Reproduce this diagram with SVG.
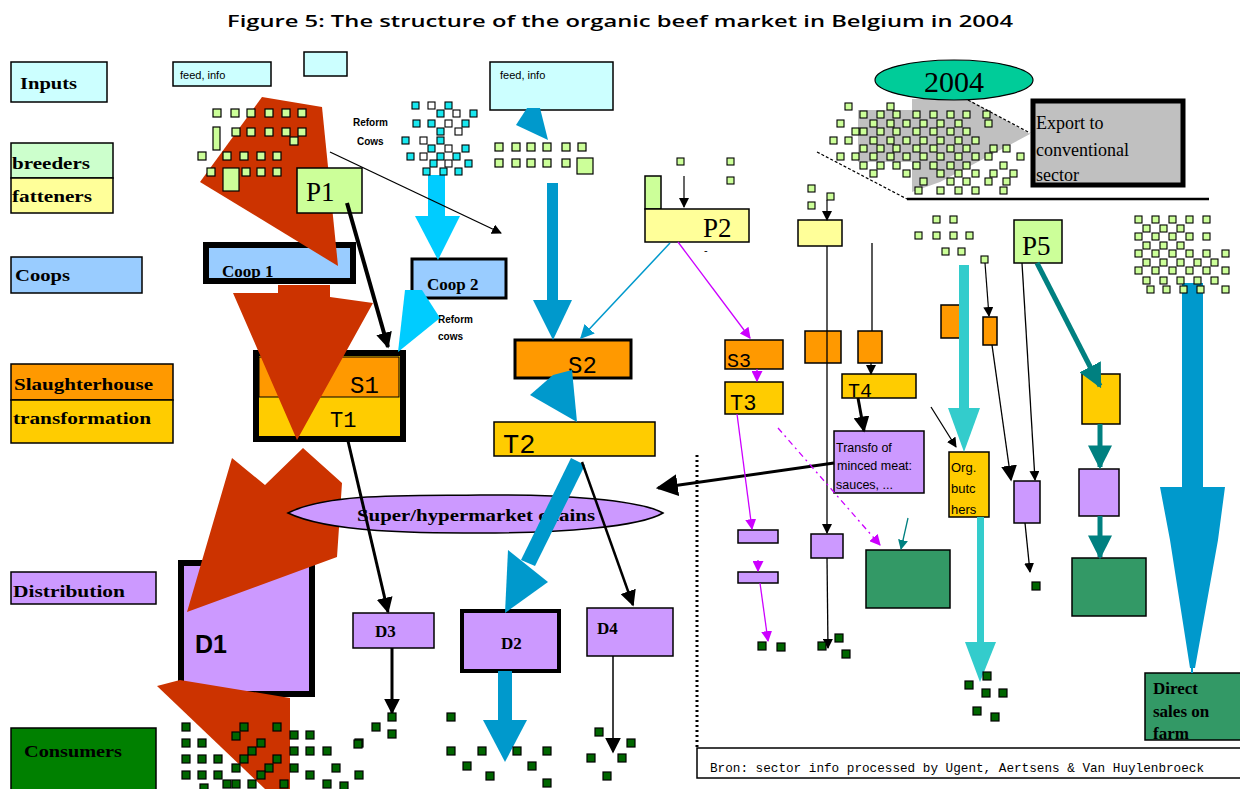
<svg xmlns="http://www.w3.org/2000/svg" width="1240" height="789" viewBox="0 0 1240 789">
<style>
.lbl{font-family:"Liberation Serif",serif;font-weight:bold;font-size:17px;fill:#000}
.ser{font-family:"Liberation Serif",serif;fill:#000}
.mono{font-family:"Liberation Mono",monospace;fill:#000}
.sans{font-family:"Liberation Sans",Arial,sans-serif;fill:#000}
.bx{stroke:#000;stroke-width:1.5}
.ln{stroke:#000;fill:none}
</style>
<defs>
<rect id="sg" width="8" height="8" fill="#ccff99" stroke="#000" stroke-width="1.2"/>
<rect id="sg7" width="7" height="7" fill="#ccff99" stroke="#000" stroke-width="1.1"/>
<rect id="sc" width="7" height="7" fill="#19e8f0" stroke="#000" stroke-width="1.1"/>
<rect id="sw" width="7" height="7" fill="#ffffff" stroke="#000" stroke-width="1.1"/>
<rect id="sk" width="8" height="8" fill="#006600" stroke="#000" stroke-width="1.2"/>
<marker id="ab" viewBox="0 0 10 10" refX="9" refY="5" markerWidth="16" markerHeight="16" orient="auto" markerUnits="userSpaceOnUse"><path d="M0,0 L10,5 L0,10 z" fill="#000"/></marker>
<marker id="abs" viewBox="0 0 10 10" refX="9" refY="5" markerWidth="10" markerHeight="10" orient="auto" markerUnits="userSpaceOnUse"><path d="M0,0 L10,5 L0,10 z" fill="#000"/></marker>
<marker id="abl" viewBox="0 0 10 10" refX="9" refY="5" markerWidth="22" markerHeight="22" orient="auto" markerUnits="userSpaceOnUse"><path d="M0,0 L10,5 L0,10 z" fill="#000"/></marker>
<marker id="am" viewBox="0 0 10 10" refX="9" refY="5" markerWidth="11" markerHeight="11" orient="auto" markerUnits="userSpaceOnUse"><path d="M0,0 L10,5 L0,10 z" fill="#cc00ff"/></marker>
<marker id="abb" viewBox="0 0 10 10" refX="9" refY="5" markerWidth="14" markerHeight="14" orient="auto" markerUnits="userSpaceOnUse"><path d="M0,0 L10,5 L0,10 z" fill="#0099cc"/></marker>
<marker id="at" viewBox="0 0 10 10" refX="9" refY="5" markerWidth="24" markerHeight="24" orient="auto" markerUnits="userSpaceOnUse"><path d="M0,0 L10,5 L0,10 z" fill="#008080"/></marker>
<marker id="ats" viewBox="0 0 10 10" refX="9" refY="5" markerWidth="10" markerHeight="10" orient="auto" markerUnits="userSpaceOnUse"><path d="M0,0 L10,5 L0,10 z" fill="#008080"/></marker>
</defs>
<rect width="1240" height="789" fill="#fff"/>
<text x="620" y="27" text-anchor="middle" font-family="Open Sans, sans-serif" font-weight="600" font-size="17" textLength="786" lengthAdjust="spacingAndGlyphs">Figure 5: The structure of the organic beef market in Belgium in 2004</text>

<g id="legend">
<rect class="bx" x="11" y="62" width="96" height="40" fill="#ccffff"/>
<text class="lbl" x="20" y="89" textLength="57" lengthAdjust="spacingAndGlyphs">Inputs</text>
<rect class="bx" x="11" y="143" width="102" height="35" fill="#ccffcc"/>
<text class="lbl" x="12" y="169" textLength="78" lengthAdjust="spacingAndGlyphs">breeders</text>
<rect class="bx" x="11" y="178" width="102" height="35" fill="#ffff99"/>
<text class="lbl" x="12" y="202" textLength="80" lengthAdjust="spacingAndGlyphs">fatteners</text>
<rect class="bx" x="11" y="257" width="131" height="36" fill="#99ccff"/>
<text class="lbl" x="15" y="281" textLength="55" lengthAdjust="spacingAndGlyphs">Coops</text>
<rect class="bx" x="11" y="364" width="162" height="36" fill="#ff9900"/>
<text class="lbl" x="14" y="390" textLength="139" lengthAdjust="spacingAndGlyphs">Slaughterhouse</text>
<rect class="bx" x="11" y="400" width="162" height="43" fill="#ffcc00"/>
<text class="lbl" x="13" y="424" textLength="138" lengthAdjust="spacingAndGlyphs">transformation</text>
<rect class="bx" x="11" y="572" width="145" height="32" fill="#cc99ff"/>
<text class="lbl" x="13" y="597" textLength="112" lengthAdjust="spacingAndGlyphs">Distribution</text>
<rect class="bx" x="11" y="728" width="145" height="64" fill="#008000"/>
<text class="lbl" x="24" y="757" textLength="98" lengthAdjust="spacingAndGlyphs">Consumers</text>
</g>

<g id="inputs">
<rect class="bx" x="173" y="62" width="98" height="24" fill="#ccffff"/>
<text class="sans" x="180" y="79" font-size="11">feed, info</text>
<rect class="bx" x="304" y="52" width="43" height="24" fill="#ccffff"/>
<rect class="bx" x="490" y="62" width="123" height="48" fill="#ccffff"/>
<text class="sans" x="500" y="79" font-size="11">feed, info</text>
</g>

<g id="reform-labels">
<text class="sans" x="353" y="126" font-size="10" font-weight="bold">Reform</text>
<text class="sans" x="357" y="145" font-size="10" font-weight="bold">Cows</text>
<text class="sans" x="438" y="323" font-size="10" font-weight="bold">Reform</text>
<text class="sans" x="438" y="340" font-size="10" font-weight="bold">cows</text>
</g>

<g id="coop1"><rect x="206" y="245" width="147" height="36" fill="#99ccff" stroke="#000" stroke-width="6"/><text class="lbl" x="222" y="277" font-size="18">Coop 1</text></g>
<g id="coop2"><rect x="412" y="259" width="94" height="39" fill="#99ccff" stroke="#000" stroke-width="3"/><text class="lbl" x="427" y="290">Coop 2</text></g>

<g id="s1t1">
<rect x="256" y="353" width="147" height="86" fill="#ffcc00" stroke="#000" stroke-width="6"/>
<rect x="259" y="357" width="140" height="40" fill="#ff9900" stroke="#000" stroke-width="1"/>
<text class="mono" x="350" y="393" font-size="24">S1</text>
<text class="mono" x="330" y="427" font-size="22">T1</text>
</g>

<g id="s2"><rect x="515" y="340" width="116" height="38" fill="#ff9900" stroke="#000" stroke-width="3"/><text class="mono" x="568" y="373" font-size="24">S2</text></g>
<g id="t2"><rect class="bx" x="494" y="422" width="161" height="34" fill="#ffcc00"/><text class="mono" x="503" y="453" font-size="27">T2</text></g>

<g id="p2">
<rect class="bx" x="645" y="176" width="16" height="33" fill="#ccff99"/>
<rect class="bx" x="645" y="209" width="104" height="33" fill="#ffff99"/>
<text class="ser" x="703" y="237" font-size="27">P2</text>
<text class="sans" x="704" y="254" font-size="11">-</text>
</g>

<g id="s3"><rect class="bx" x="725" y="340" width="58" height="29" fill="#ff9900"/><text class="mono" x="727" y="367" font-size="20">S3</text></g>
<g id="t3"><rect class="bx" x="725" y="382" width="58" height="32" fill="#ffcc00"/><text class="mono" x="730" y="410" font-size="22">T3</text></g>

<g id="col5">
<rect class="bx" x="798" y="220" width="44" height="26" fill="#ffff99"/>
<rect class="bx" x="805" y="331" width="36" height="32" fill="#ff9900"/>
<rect class="bx" x="811" y="534" width="32" height="24" fill="#cc99ff"/>
</g>
<g id="col6"><rect class="bx" x="858" y="331" width="24" height="32" fill="#ff9900"/></g>

<g id="d1"><rect x="181" y="563" width="131" height="131" fill="#cc99ff" stroke="#000" stroke-width="6"/><text x="195" y="653" font-family="Liberation Sans, Arial, sans-serif" font-weight="bold" font-size="25">D1</text></g>
<g id="d3"><rect class="bx" x="353" y="613" width="81" height="35" fill="#cc99ff"/><text class="lbl" x="375" y="637">D3</text></g>
<g id="d2"><rect x="462" y="611" width="97" height="60" fill="#cc99ff" stroke="#000" stroke-width="4"/><text class="lbl" x="501" y="649">D2</text></g>
<g id="d4"><rect class="bx" x="587" y="608" width="86" height="48" fill="#cc99ff"/><text class="lbl" x="597" y="634">D4</text></g>

<g id="mag-boxes">
<rect class="bx" x="738" y="530" width="40" height="13" fill="#cc99ff"/>
<rect class="bx" x="738" y="572" width="40" height="11" fill="#cc99ff"/>
</g>

<g id="export2004">
<polygon points="858,110 912,110 912,99 967,99 1030,134 940,182 912,192 912,162 858,162" fill="#c0c0c0"/>
<rect x="1033" y="101" width="150" height="84" fill="#c0c0c0" stroke="#000" stroke-width="5"/>
<text class="ser" x="1036" y="129" font-size="18">Export to</text>
<text class="ser" x="1036" y="156" font-size="18">conventional</text>
<text class="ser" x="1036" y="181" font-size="18">sector</text>
<ellipse cx="954" cy="80" rx="79" ry="20" fill="#00cc99" stroke="#000" stroke-width="1.2"/>
<text class="ser" x="954" y="92" font-size="30" text-anchor="middle">2004</text>
<line x1="907" y1="199" x2="1209" y2="199" stroke="#000" stroke-width="2.5"/>
<line x1="817" y1="152" x2="907" y2="199" stroke="#000" stroke-width="1.2" stroke-dasharray="3,2"/>
<line x1="968" y1="100" x2="1030" y2="133" stroke="#000" stroke-width="1.2" stroke-dasharray="3,2"/>
</g>

<g id="t4"><rect class="bx" x="842" y="374" width="74" height="24" fill="#ffcc00"/><text class="mono" x="848" y="397" font-size="20">T4</text></g>
<g id="transfo"><rect class="bx" x="834" y="431" width="90" height="62" fill="#cc99ff"/>
<text class="sans" x="836" y="452" font-size="12.5">Transfo of</text>
<text class="sans" x="837" y="470" font-size="12.5">minced meat:</text>
<text class="sans" x="836" y="489" font-size="12.5">sauces, ...</text></g>

<g id="col7"><rect class="bx" x="941" y="305" width="24" height="33" fill="#ff9900"/></g>
<g id="butchers"><rect class="bx" x="949" y="452" width="40" height="65" fill="#ffcc00"/>
<text class="sans" x="951" y="472" font-size="13">Org.</text>
<text class="sans" x="951" y="493" font-size="13">butc</text>
<text class="sans" x="951" y="514" font-size="13">hers</text></g>
<g id="col8"><rect class="bx" x="983" y="317" width="14" height="28" fill="#ff9900"/><rect class="bx" x="1014" y="481" width="26" height="42" fill="#cc99ff"/></g>
<g id="p5"><rect class="bx" x="1014" y="220" width="48" height="43" fill="#ccff99"/><text class="ser" x="1022" y="255" font-size="27">P5</text></g>
<g id="col9"><rect class="bx" x="1082" y="374" width="38" height="50" fill="#ffcc00"/><rect class="bx" x="1079" y="469" width="40" height="47" fill="#cc99ff"/><rect class="bx" x="1072" y="558" width="74" height="58" fill="#339966"/></g>
<g id="green-mid"><rect class="bx" x="866" y="550" width="84" height="58" fill="#339966"/></g>
<g id="direct"><rect class="bx" x="1145" y="673" width="97" height="67" fill="#339966"/>
<text class="lbl" x="1153" y="694">Direct</text>
<text class="lbl" x="1153" y="717">sales on</text>
<text class="lbl" x="1153" y="739">farm</text></g>

<g id="source">
<line x1="697" y1="455" x2="697" y2="748" stroke="#000" stroke-width="3" stroke-dasharray="2,3"/>
<rect x="697" y="748" width="545" height="30" fill="none" stroke="#000" stroke-width="1.5"/>
<text class="mono" x="710" y="772" font-size="13" textLength="494" lengthAdjust="spacingAndGlyphs">Bron: sector info processed by Ugent, Aertsens &amp; Van Huylenbroeck</text>
</g>

<g id="connectors-main-flow">
<polygon points="200,182 262,97 322,107 338,266" fill="#cc3300"/>
<polygon points="233,293 278,293 278,285 330,285 330,297 373,303 297,440" fill="#cc3300"/>
<polygon points="232,458 265,485 303,448 342,483 337,557 187,612" fill="#cc3300"/>
<polygon points="157,686 180,680 290,698 290,789 265,789" fill="#cc3300"/>
</g>

<g id="p1"><rect class="bx" x="297" y="168" width="65" height="45" fill="#ccff99"/><text class="ser" x="306" y="201" font-size="27">P1</text></g>
<g id="supermarket"><path d="M288,513 C330,492 420,496 480,495 C560,494 640,500 663,513 C640,527 560,533 480,533 C420,533 330,533 288,513 Z" fill="#cc99ff" stroke="#000" stroke-width="1.5"/><text class="lbl" x="476" y="521" text-anchor="middle" textLength="238" lengthAdjust="spacingAndGlyphs">Super/hypermarket chains</text></g>

<g id="connectors">
<rect x="428" y="175" width="17" height="42" fill="#00ccff"/>
<polygon points="415,216 460,216 438,260" fill="#00ccff"/>
<polygon points="405,290 422,290 440,318 398,352" fill="#00ccff"/>
<polygon points="516,125 527,108 540,108 548,140" fill="#0099cc"/>
<rect x="547" y="183" width="11" height="118" fill="#0099cc"/>
<polygon points="533,300 572,300 553,340" fill="#0099cc"/>
<polygon points="530,395 553,375 572,370 577,422" fill="#0099cc"/>
<polygon points="585,465 571,458 521,560 535,566" fill="#0099cc"/>
<polygon points="508,550 548,582 505,613" fill="#0099cc"/>
<rect x="498" y="671" width="14" height="51" fill="#0099cc"/>
<polygon points="483,720 527,720 505,762" fill="#0099cc"/>
<line x1="670" y1="243" x2="581" y2="338" stroke="#0099cc" stroke-width="1.5" marker-end="url(#abb)"/>
<rect x="1182" y="283" width="21" height="205" fill="#0099cc"/>
<polygon points="1160,487 1225,487 1218,540 1195,668 1190,668 1170,540" fill="#0099cc"/>
<line x1="1192" y1="665" x2="1192" y2="673" stroke="#0099cc" stroke-width="2"/>
<rect x="959" y="265" width="10" height="145" fill="#33cccc"/>
<polygon points="948,408 980,408 964,452" fill="#33cccc"/>
<rect x="977" y="517" width="7" height="127" fill="#33cccc"/>
<polygon points="965,642 996,642 980,682" fill="#33cccc"/>
<line x1="347" y1="203" x2="388" y2="347" stroke="#000" stroke-width="4" marker-end="url(#ab)"/>
<line x1="330" y1="152" x2="501" y2="233" stroke="#000" stroke-width="1.3" marker-end="url(#abs)"/>
<line x1="348" y1="441" x2="388" y2="612" stroke="#000" stroke-width="3" marker-end="url(#ab)"/>
<line x1="392" y1="648" x2="392" y2="713" stroke="#000" stroke-width="3" marker-end="url(#ab)"/>
<line x1="582" y1="462" x2="633" y2="605" stroke="#000" stroke-width="2.5" marker-end="url(#ab)"/>
<line x1="613" y1="656" x2="613" y2="752" stroke="#000" stroke-width="1.5" marker-end="url(#ab)"/>
<line x1="684" y1="176" x2="684" y2="207" stroke="#000" stroke-width="1.2" marker-end="url(#abs)"/>
<line x1="827" y1="200" x2="827" y2="220" stroke="#000" stroke-width="1.2" marker-end="url(#abs)"/>
<line x1="827" y1="246" x2="827" y2="533" stroke="#000" stroke-width="1.3" marker-end="url(#abs)"/>
<line x1="827" y1="558" x2="828" y2="648" stroke="#000" stroke-width="1.3" marker-end="url(#abs)"/>
<line x1="872" y1="243" x2="872" y2="331" stroke="#000" stroke-width="1.3"/>
<line x1="871" y1="363" x2="871" y2="374" stroke="#000" stroke-width="1.3" marker-end="url(#abs)"/>
<line x1="858" y1="398" x2="864" y2="431" stroke="#000" stroke-width="3" marker-end="url(#ab)"/>
<line x1="834" y1="463" x2="658" y2="488" stroke="#000" stroke-width="3" marker-end="url(#abl)"/>
<line x1="931" y1="407" x2="956" y2="447" stroke="#000" stroke-width="1.3" marker-end="url(#abs)"/>
<line x1="985" y1="263" x2="989" y2="316" stroke="#000" stroke-width="1.2" marker-end="url(#abs)"/>
<line x1="992" y1="345" x2="1011" y2="480" stroke="#000" stroke-width="1.3" marker-end="url(#ab)"/>
<line x1="1022" y1="263" x2="1035" y2="480" stroke="#000" stroke-width="1.3" marker-end="url(#abs)"/>
<line x1="1025" y1="523" x2="1030" y2="572" stroke="#000" stroke-width="1.3" marker-end="url(#abs)"/>
<line x1="1037" y1="263" x2="1100" y2="386" stroke="#008080" stroke-width="5" marker-end="url(#at)"/>
<line x1="1100" y1="424" x2="1100" y2="467" stroke="#008080" stroke-width="5" marker-end="url(#at)"/>
<line x1="1100" y1="516" x2="1100" y2="557" stroke="#008080" stroke-width="5" marker-end="url(#at)"/>
<line x1="908" y1="518" x2="901" y2="549" stroke="#008080" stroke-width="1.3" marker-end="url(#ats)"/>
<line x1="678" y1="242" x2="750" y2="338" stroke="#cc00ff" stroke-width="1.3" marker-end="url(#am)"/>
<line x1="757" y1="369" x2="757" y2="381" stroke="#cc00ff" stroke-width="1.3" marker-end="url(#am)"/>
<line x1="737" y1="414" x2="752" y2="529" stroke="#cc00ff" stroke-width="1.3" marker-end="url(#am)"/>
<line x1="758" y1="560" x2="758" y2="571" stroke="#cc00ff" stroke-width="1.3" marker-end="url(#am)"/>
<line x1="760" y1="583" x2="768" y2="641" stroke="#cc00ff" stroke-width="1.3" marker-end="url(#am)"/>
<line x1="778" y1="428" x2="880" y2="545" stroke="#cc00ff" stroke-width="1.3" stroke-dasharray="6,4,2,4" marker-end="url(#am)"/>
</g>

<g id="breeders-squares">
<use href="#sg" x="213" y="109"/><use href="#sg" x="231" y="109"/><use href="#sg" x="247" y="109"/><use href="#sg" x="265" y="109"/><use href="#sg" x="282" y="109"/><use href="#sg" x="298" y="109"/>
<use href="#sg" x="232" y="128"/><use href="#sg" x="247" y="128"/><use href="#sg" x="265" y="128"/><use href="#sg" x="282" y="128"/><use href="#sg" x="298" y="128"/><use href="#sg" x="290" y="137"/>
<use href="#sg" x="198" y="152"/><use href="#sg" x="223" y="152"/><use href="#sg" x="240" y="152"/><use href="#sg" x="257" y="152"/><use href="#sg" x="273" y="152"/>
<use href="#sg" x="207" y="168"/><use href="#sg" x="242" y="168"/><use href="#sg" x="257" y="168"/><use href="#sg" x="273" y="168"/>
<rect x="213" y="127" width="7" height="23" fill="#ccff99" stroke="#000" stroke-width="1.2"/>
<rect x="223" y="168" width="16" height="23" fill="#ccff99" stroke="#000" stroke-width="1.2"/>
</g>

<g id="reform-squares">
<use href="#sc" x="412" y="102"/><use href="#sw" x="428" y="102"/><use href="#sc" x="445" y="102"/><use href="#sc" x="437" y="110"/><use href="#sw" x="453" y="110"/><use href="#sc" x="470" y="110"/>
<use href="#sc" x="413" y="120"/><use href="#sc" x="428" y="120"/><use href="#sw" x="445" y="120"/><use href="#sc" x="462" y="120"/><use href="#sc" x="437" y="128"/><use href="#sw" x="455" y="128"/>
<use href="#sc" x="402" y="137"/><use href="#sw" x="420" y="137"/><use href="#sc" x="437" y="137"/><use href="#sc" x="462" y="145"/><use href="#sc" x="428" y="145"/><use href="#sw" x="445" y="145"/>
<use href="#sc" x="407" y="153"/><use href="#sw" x="420" y="153"/><use href="#sc" x="437" y="153"/><use href="#sc" x="453" y="153"/><use href="#sc" x="465" y="160"/><use href="#sc" x="430" y="160"/><use href="#sw" x="445" y="160"/>
<use href="#sc" x="423" y="168"/><use href="#sc" x="440" y="168"/><use href="#sc" x="455" y="168"/>
</g>

<g id="fattener-squares">
<use href="#sg" x="495" y="143"/><use href="#sg" x="512" y="143"/><use href="#sg" x="527" y="143"/><use href="#sg" x="543" y="143"/><use href="#sg" x="562" y="143"/><use href="#sg" x="578" y="143"/>
<use href="#sg" x="495" y="159"/><use href="#sg" x="512" y="159"/><use href="#sg" x="527" y="159"/><use href="#sg" x="543" y="159"/><use href="#sg" x="562" y="159"/>
<rect x="577" y="158" width="16" height="16" fill="#ccff99" stroke="#000" stroke-width="1.2"/>
<use href="#sg7" x="677" y="158"/><use href="#sg7" x="727" y="158"/><use href="#sg7" x="727" y="177"/>
<use href="#sg7" x="808" y="185"/><use href="#sg7" x="808" y="202"/><use href="#sg7" x="827" y="193"/>
<use href="#sg7" x="933" y="216"/><use href="#sg7" x="950" y="216"/><use href="#sg7" x="915" y="232"/><use href="#sg7" x="933" y="232"/><use href="#sg7" x="950" y="232"/><use href="#sg7" x="966" y="232"/><use href="#sg7" x="942" y="248"/><use href="#sg7" x="958" y="248"/>
<use href="#sg7" x="981" y="256"/>
</g>

<g id="farm-squares">
<use href="#sg7" x="1135" y="216"/><use href="#sg7" x="1152" y="216"/><use href="#sg7" x="1169" y="216"/><use href="#sg7" x="1186" y="216"/><use href="#sg7" x="1203" y="216"/>
<use href="#sg7" x="1143" y="225"/><use href="#sg7" x="1160" y="225"/><use href="#sg7" x="1177" y="225"/>
<use href="#sg7" x="1135" y="233"/><use href="#sg7" x="1152" y="233"/><use href="#sg7" x="1169" y="233"/><use href="#sg7" x="1186" y="233"/><use href="#sg7" x="1203" y="233"/>
<use href="#sg7" x="1143" y="242"/><use href="#sg7" x="1160" y="242"/><use href="#sg7" x="1177" y="242"/>
<use href="#sg7" x="1135" y="250"/><use href="#sg7" x="1152" y="250"/><use href="#sg7" x="1169" y="250"/><use href="#sg7" x="1186" y="250"/><use href="#sg7" x="1203" y="250"/><use href="#sg7" x="1222" y="250"/>
<use href="#sg7" x="1143" y="259"/><use href="#sg7" x="1160" y="259"/><use href="#sg7" x="1177" y="259"/><use href="#sg7" x="1194" y="259"/><use href="#sg7" x="1211" y="259"/>
<use href="#sg7" x="1135" y="267"/><use href="#sg7" x="1152" y="267"/><use href="#sg7" x="1169" y="267"/><use href="#sg7" x="1186" y="267"/><use href="#sg7" x="1203" y="267"/><use href="#sg7" x="1222" y="267"/>
<use href="#sg7" x="1143" y="277"/><use href="#sg7" x="1160" y="277"/><use href="#sg7" x="1177" y="277"/><use href="#sg7" x="1194" y="277"/><use href="#sg7" x="1211" y="277"/>
<use href="#sg7" x="1147" y="286"/><use href="#sg7" x="1163" y="286"/><use href="#sg7" x="1180" y="286"/><use href="#sg7" x="1197" y="286"/><use href="#sg7" x="1222" y="286"/>
</g>

<g id="export-squares">
<use href="#sg7" x="845" y="103"/><use href="#sg7" x="887" y="103"/>
<use href="#sg7" x="860" y="111"/><use href="#sg7" x="877" y="111"/><use href="#sg7" x="893" y="111"/><use href="#sg7" x="913" y="111"/><use href="#sg7" x="930" y="111"/><use href="#sg7" x="947" y="111"/><use href="#sg7" x="963" y="111"/><use href="#sg7" x="983" y="111"/>
<use href="#sg7" x="837" y="120"/><use href="#sg7" x="870" y="120"/><use href="#sg7" x="887" y="120"/><use href="#sg7" x="903" y="120"/><use href="#sg7" x="920" y="120"/><use href="#sg7" x="937" y="120"/><use href="#sg7" x="955" y="120"/><use href="#sg7" x="985" y="120"/>
<use href="#sg7" x="852" y="128"/><use href="#sg7" x="860" y="128"/><use href="#sg7" x="877" y="128"/><use href="#sg7" x="893" y="128"/><use href="#sg7" x="913" y="128"/><use href="#sg7" x="930" y="128"/><use href="#sg7" x="947" y="128"/><use href="#sg7" x="963" y="128"/>
<use href="#sg7" x="830" y="137"/><use href="#sg7" x="845" y="137"/><use href="#sg7" x="870" y="137"/><use href="#sg7" x="887" y="137"/><use href="#sg7" x="903" y="137"/><use href="#sg7" x="920" y="137"/><use href="#sg7" x="937" y="137"/><use href="#sg7" x="955" y="137"/><use href="#sg7" x="972" y="137"/>
<use href="#sg7" x="860" y="145"/><use href="#sg7" x="877" y="145"/><use href="#sg7" x="893" y="145"/><use href="#sg7" x="913" y="145"/><use href="#sg7" x="930" y="145"/><use href="#sg7" x="947" y="145"/><use href="#sg7" x="963" y="145"/><use href="#sg7" x="990" y="145"/><use href="#sg7" x="1003" y="145"/>
<use href="#sg7" x="837" y="153"/><use href="#sg7" x="852" y="153"/><use href="#sg7" x="870" y="153"/><use href="#sg7" x="887" y="153"/><use href="#sg7" x="903" y="153"/><use href="#sg7" x="920" y="153"/><use href="#sg7" x="937" y="153"/><use href="#sg7" x="955" y="153"/><use href="#sg7" x="972" y="153"/><use href="#sg7" x="985" y="153"/><use href="#sg7" x="1017" y="153"/>
<use href="#sg7" x="860" y="162"/><use href="#sg7" x="877" y="162"/><use href="#sg7" x="893" y="162"/><use href="#sg7" x="913" y="162"/><use href="#sg7" x="930" y="162"/><use href="#sg7" x="947" y="162"/><use href="#sg7" x="963" y="162"/><use href="#sg7" x="1000" y="162"/>
<use href="#sg7" x="870" y="170"/><use href="#sg7" x="903" y="170"/><use href="#sg7" x="937" y="170"/><use href="#sg7" x="955" y="170"/><use href="#sg7" x="972" y="170"/><use href="#sg7" x="990" y="170"/><use href="#sg7" x="1010" y="170"/>
<use href="#sg7" x="920" y="178"/><use href="#sg7" x="947" y="178"/><use href="#sg7" x="963" y="178"/><use href="#sg7" x="985" y="178"/><use href="#sg7" x="1003" y="178"/>
<use href="#sg7" x="915" y="187"/><use href="#sg7" x="937" y="187"/><use href="#sg7" x="955" y="187"/><use href="#sg7" x="972" y="187"/><use href="#sg7" x="1000" y="187"/>
</g>

<g id="consumer-squares">
<use href="#sk" x="182" y="723"/><use href="#sk" x="182" y="739"/><use href="#sk" x="198" y="739"/><use href="#sk" x="182" y="755"/><use href="#sk" x="198" y="755"/><use href="#sk" x="214" y="755"/>
<use href="#sk" x="182" y="771"/><use href="#sk" x="198" y="771"/><use href="#sk" x="214" y="771"/><use href="#sk" x="240" y="723"/><use href="#sk" x="232" y="732"/><use href="#sk" x="257" y="739"/>
<use href="#sk" x="248" y="747"/><use href="#sk" x="240" y="755"/><use href="#sk" x="232" y="764"/><use href="#sk" x="223" y="780"/><use href="#sk" x="232" y="780"/><use href="#sk" x="248" y="780"/>
<use href="#sk" x="265" y="764"/><use href="#sk" x="273" y="755"/><use href="#sk" x="273" y="723"/><use href="#sk" x="290" y="731"/><use href="#sk" x="306" y="731"/><use href="#sk" x="290" y="747"/>
<use href="#sk" x="306" y="747"/><use href="#sk" x="323" y="747"/><use href="#sk" x="290" y="764"/><use href="#sk" x="332" y="764"/><use href="#sk" x="306" y="771"/><use href="#sk" x="323" y="780"/>
<use href="#sk" x="355" y="771"/><use href="#sk" x="355" y="739"/><use href="#sk" x="280" y="780"/><use href="#sk" x="257" y="771"/><use href="#sk" x="200" y="784"/><use href="#sk" x="340" y="782"/>
<use href="#sk" x="388" y="713"/><use href="#sk" x="372" y="723"/><use href="#sk" x="388" y="730"/><use href="#sk" x="354" y="740"/>
<use href="#sk" x="447" y="713"/><use href="#sk" x="447" y="747"/><use href="#sk" x="478" y="747"/><use href="#sk" x="513" y="747"/><use href="#sk" x="543" y="747"/><use href="#sk" x="463" y="762"/><use href="#sk" x="486" y="772"/><use href="#sk" x="528" y="762"/><use href="#sk" x="543" y="779"/>
<use href="#sk" x="595" y="728"/><use href="#sk" x="627" y="739"/><use href="#sk" x="587" y="754"/><use href="#sk" x="618" y="754"/><use href="#sk" x="603" y="772"/>
<use href="#sk" x="758" y="642"/><use href="#sk" x="777" y="643"/><use href="#sk" x="818" y="642"/><use href="#sk" x="835" y="634"/><use href="#sk" x="842" y="650"/>
<use href="#sk" x="983" y="672"/><use href="#sk" x="965" y="681"/><use href="#sk" x="982" y="689"/><use href="#sk" x="999" y="689"/><use href="#sk" x="973" y="707"/><use href="#sk" x="991" y="713"/>
<use href="#sk" x="1032" y="582"/>
</g>
</svg>
